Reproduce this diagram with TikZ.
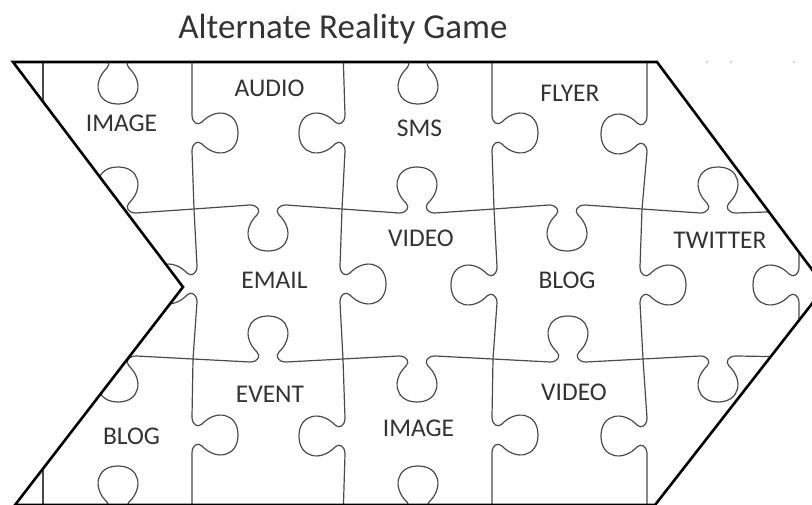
\documentclass[tikz,border=0pt]{standalone}
\usepackage{fontspec}
\setmainfont{Carlito}
\definecolor{txtgray}{HTML}{333333}
\definecolor{cutgray}{HTML}{4A4A4A}

% Puzzle tab on a vertical cut drawn downwards; centre (#1,#2), #3 = 1 right, -1 left
\newcommand\kv[3]{%
 -- ({#1},{#2-18})
 .. controls ({#1},{#2-10}) and ({#1+(#3)*6},{#2-7}) .. ({#1+(#3)*10},{#2-11})
 .. controls ({#1+(#3)*24},{#2-26}) and ({#1+(#3)*46},{#2-22}) .. ({#1+(#3)*46},{#2})
 .. controls ({#1+(#3)*46},{#2+22}) and ({#1+(#3)*24},{#2+26}) .. ({#1+(#3)*10},{#2+11})
 .. controls ({#1+(#3)*6},{#2+7}) and ({#1},{#2+10}) .. ({#1},{#2+18})}

% Puzzle tab on a horizontal cut drawn rightwards; centre (#1,#2), #3 = 1 down, -1 up
\newcommand\kh[3]{%
 -- ({#1-18},{#2})
 .. controls ({#1-10},{#2}) and ({#1-7},{#2+(#3)*6}) .. ({#1-11},{#2+(#3)*10})
 .. controls ({#1-26},{#2+(#3)*24}) and ({#1-22},{#2+(#3)*46}) .. ({#1},{#2+(#3)*46})
 .. controls ({#1+22},{#2+(#3)*46}) and ({#1+26},{#2+(#3)*24}) .. ({#1+11},{#2+(#3)*10})
 .. controls ({#1+7},{#2+(#3)*6}) and ({#1+10},{#2}) .. ({#1+18},{#2})}

\tikzset{
  cut/.style={draw=cutgray, line width=1.2pt, line join=round},
  outline/.style={draw=black, line width=2.6pt, line join=miter},
  lbl/.style={font=\fontsize{25.5}{30}\selectfont, text=txtgray, anchor=base, inner sep=0pt},
  ttl/.style={font=\fontsize{35}{40}\selectfont, text=txtgray, anchor=base, inner sep=0pt}
}

\begin{document}
\begin{tikzpicture}[x=1pt,y=-1pt]
\useasboundingbox (0,0) rectangle (812,505);

% jigsaw cuts, kept inside the arrow
\begin{scope}
\clip (13,62) -- (657,62) -- (825,287) -- (655,505) -- (15,505) -- (183,287) -- cycle;
% outer edges of the sheet
\path[cut] (0,58) \kh{118}{58}{1} \kh{268}{58}{-1} \kh{418}{58}{1} \kh{568}{58}{-1} -- (812,58);
\path[cut] (0,512) \kh{118}{512}{-1} \kh{268}{512}{1} \kh{418}{512}{-1} \kh{568}{512}{1} -- (812,512);
% horizontal cuts
\path[cut] (30,213) \kh{118}{213}{-1} -- (194,209) \kh{268}{205}{1} -- (342,209)
  \kh{417}{213}{-1} -- (494,209) \kh{567}{205}{1} -- (642,209) \kh{718}{213}{-1} -- (798,211) -- (830,211);
\path[cut] (30,356) \kh{118}{356}{1} -- (193,359) \kh{268}{362}{-1} -- (343,359)
  \kh{417}{356}{1} -- (493,359) \kh{568}{362}{-1} -- (643,359) \kh{718}{356}{1} -- (798,357) -- (830,357);
% vertical cuts
\path[cut] (43,50) -- (43,520);
\path[cut] (192,50) \kv{192}{133}{1} -- (194,209) \kv{197}{284}{-1} -- (193,359) \kv{192}{435}{1} -- (192,520);
\path[cut] (343,50) \kv{345}{133}{-1} -- (342,209) \kv{340}{284}{1} -- (343,359) \kv{345}{436}{-1} -- (343,520);
\path[cut] (492,50) \kv{492}{133}{1} -- (494,209) \kv{497}{285}{-1} -- (493,359) \kv{492}{435}{1} -- (492,520);
\path[cut] (647,50) \kv{647}{134}{-1} -- (642,209) \kv{640}{285}{1} -- (643,359) \kv{647}{436}{-1} -- (647,520);
\path[cut] (799,150) -- (799,209) \kv{799}{285}{-1} -- (799,359) -- (799,420);
\end{scope}

% arrow outline
\path[outline] (13,62) -- (657,62) -- (825,287) -- (655,505) -- (15,505) -- (183,287) -- cycle;

% specks beside the top edge
\fill[gray!70] (707,62) circle (0.8) (731,62) circle (0.8) (794,62) circle (0.8);

% title
\node[ttl] (title) at (343,39) {Alternate Reality Game};

% piece labels
\node[lbl] (image1) at (121.5,132) {IMAGE};
\node[lbl] (audio) at (269.5,97) {AUDIO};
\node[lbl] (sms) at (419.5,137) {SMS};
\node[lbl] (flyer) at (570,102) {FLYER};
\node[lbl] (video1) at (421,247) {VIDEO};
\node[lbl] (email) at (274.5,289) {EMAIL};
\node[lbl] (blog1) at (567,289) {BLOG};
\node[lbl] (twitter) at (720,249) {TWITTER};
\node[lbl] (event) at (270,402) {EVENT};
\node[lbl] (image2) at (418.5,436) {IMAGE};
\node[lbl] (video2) at (574,400) {VIDEO};
\node[lbl] (blog2) at (131.5,444) {BLOG};
\end{tikzpicture}
\end{document}
